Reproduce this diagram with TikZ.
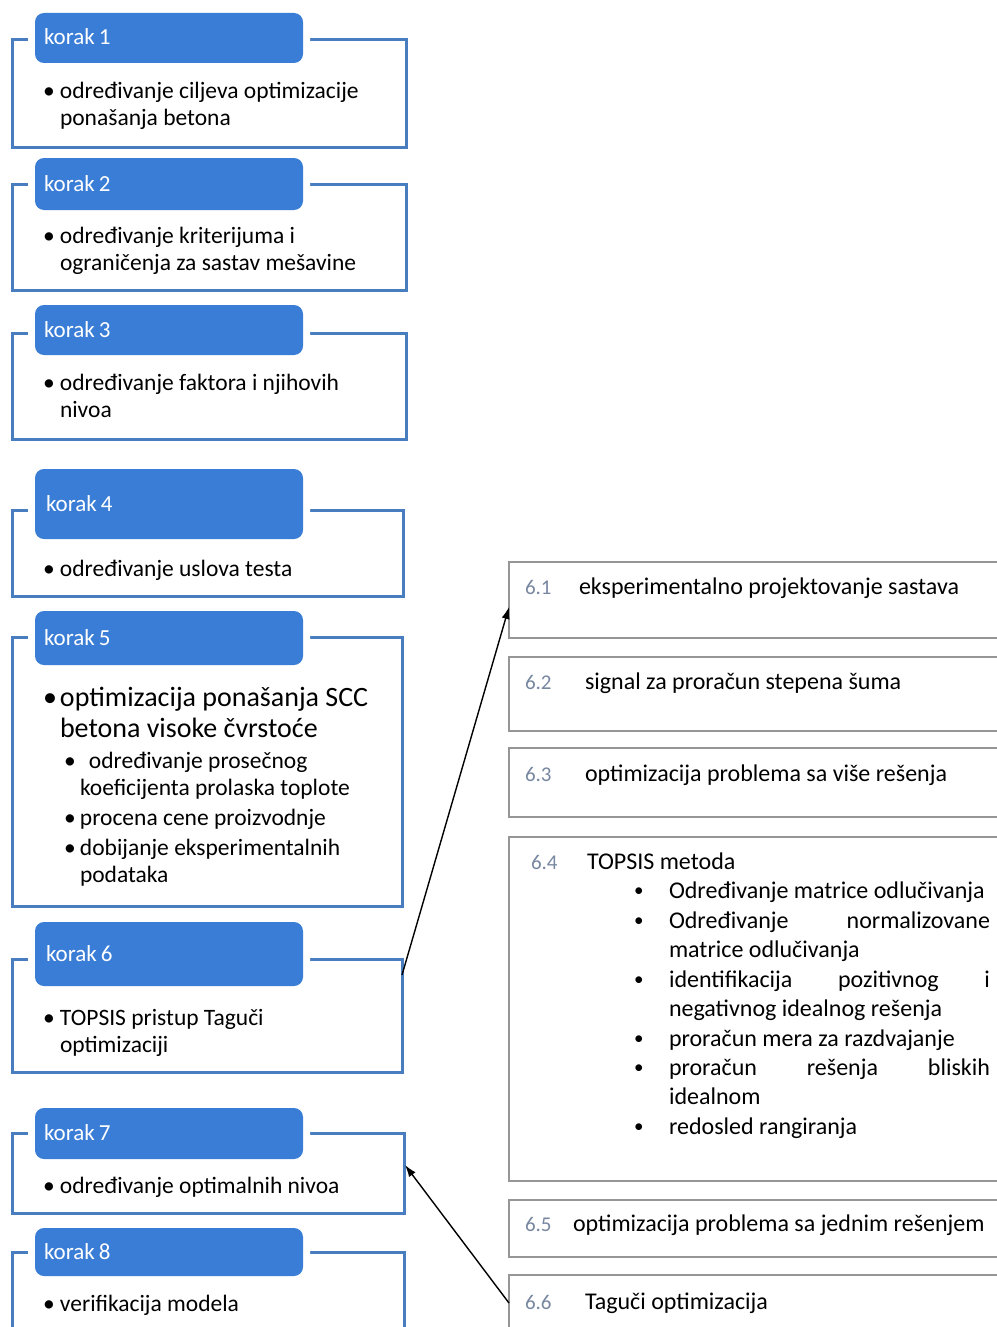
\documentclass[tikz,border=0pt]{standalone}
\usepackage{fontspec}
\setmainfont{Carlito}
\usetikzlibrary{arrows.meta,calc}
\definecolor{hdrblue}{RGB}{58,125,214}
\definecolor{frmblue}{RGB}{72,125,192}
\definecolor{boxgray}{RGB}{150,150,150}
\definecolor{numgray}{RGB}{120,135,160}
\newcommand{\bul}{\makebox[17pt][l]{•}}
\newcommand{\sbul}{\makebox[16pt][l]{•}}
\tikzset{
 frame/.style={draw=frmblue, line width=3pt, fill=white, anchor=north west, outer sep=0pt, inner sep=0pt},
 header/.style={fill=hdrblue, rounded corners=9pt, anchor=north west, outer sep=0pt, inner xsep=9pt, inner ysep=0pt,
   text width=250pt, align=left, text=white, font=\fontsize{23}{26}\selectfont, text height=14pt, text depth=0pt,
   minimum width=268pt, preaction={draw=white, line width=14pt, rounded corners=9pt}},
 body/.style={anchor=base west, inner sep=0pt, outer sep=0pt, font=\fontsize{23.5}{27}\selectfont, text=black},
 rbox/.style={draw=boxgray, line width=1.5pt, fill=white, anchor=north west, outer sep=0pt, inner sep=0pt, minimum width=520pt},
 num/.style={anchor=base west, inner sep=0pt, outer sep=0pt, text=numgray, font=\fontsize{21}{24}\selectfont},
 rtext/.style={anchor=base west, inner sep=0pt, outer sep=0pt, text=black, font=\fontsize{24}{29.5}\selectfont},
 rbul/.style={anchor=base west, inner sep=0pt, outer sep=0pt, text=black, font=\fontsize{19}{24}\selectfont},
 link/.style={draw=black, line width=1.4pt, -{Latex[length=12pt,width=8pt]}}
}
\begin{document}
\begin{tikzpicture}[x=1pt,y=-1pt]
\useasboundingbox (0,0) rectangle (996,1327);
\fill[white] (0,0) rectangle (996,1327);
% step frames
\node[frame, minimum width=394pt, minimum height=107pt] (f1) at (12,40) {};
\node[frame, minimum width=394pt, minimum height=106pt] (f2) at (12,184) {};
\node[frame, minimum width=394pt, minimum height=106pt] (f3) at (12,333) {};
\node[frame, minimum width=391pt, minimum height=86pt] (f4) at (12,510) {};
\node[frame, minimum width=390pt, minimum height=269pt] (f5) at (12,637) {};
\node[frame, minimum width=390pt, minimum height=113pt] (f6) at (12,959) {};
\node[frame, minimum width=392pt, minimum height=80pt] (f7) at (12,1133) {};
\node[frame, minimum width=392pt, minimum height=100pt] (f8) at (12,1252) {};
% headers
\node[header, minimum height=50pt] (h1) at (35,13) {korak\kern4pt 1};
\node[header, minimum height=52pt] (h2) at (35,158) {korak\kern4pt 2};
\node[header, minimum height=50pt] (h3) at (35,305) {korak\kern4pt 3};
\node[header, minimum height=70pt] (h4) at (35,469) {\hspace*{2pt}korak\kern4pt 4};
\node[header, minimum height=54pt] (h5) at (35,611) {korak\kern4pt 5};
\node[header, minimum height=64pt] (h6) at (35,922) {\hspace*{2pt}korak\kern4pt 6};
\node[header, minimum height=51pt] (h7) at (35,1108) {korak\kern4pt 7};
\node[header, minimum height=48pt] (h8) at (35,1228) {korak\kern4pt 8};
% step texts
\node[body] (t1) at (43,99) {\bul\parbox[t]{340pt}{određivanje ciljeva optimizacije\\ponašanja betona}};
\node[body] (t2) at (43,243) {\bul\parbox[t]{340pt}{određivanje kriterijuma i\\ograničenja za sastav mešavine}};
\node[body] (t3) at (43,390) {\bul\parbox[t]{340pt}{određivanje faktora i njihovih\\nivoa}};
\node[body] (t4) at (43,576) {\bul određivanje uslova testa};
\node[body, font=\fontsize{28}{31}\selectfont] (t5) at (43,706) {\bul\parbox[t]{340pt}{optimizacija ponašanja SCC\\betona visoke čvrstoće}};
\node[body] (t5a) at (64,768) {\sbul\parbox[t]{310pt}{\hspace*{9pt}određivanje prosečnog\\koeficijenta prolaska toplote}};
\node[body] (t5b) at (64,825) {\sbul procena cene proizvodnje};
\node[body] (t5c) at (64,855) {\sbul\parbox[t]{310pt}{dobijanje eksperimentalnih\\podataka}};
\node[body] (t6) at (43,1025) {\bul\parbox[t]{340pt}{TOPSIS pristup Taguči\\optimizaciji}};
\node[body] (t7) at (43,1193) {\bul određivanje optimalnih nivoa};
\node[body] (t8) at (43,1311) {\bul verifikacija modela};
% right boxes
\node[rbox, minimum height=76pt] (b61) at (509,562) {};
\node[rbox, minimum height=74pt] (b62) at (509,657) {};
\node[rbox, minimum height=69pt] (b63) at (509,748) {};
\node[rbox, minimum height=344pt] (b64) at (509,837) {};
\node[rbox, minimum height=57pt] (b65) at (509,1200) {};
\node[rbox, minimum height=90pt] (b66) at (509,1275) {};
\node[num] (n61) at (525,594) {6.1};
\node[rtext] (r61) at (579,594) {eksperimentalno projektovanje sastava};
\node[num] (n62) at (525,689) {6.2};
\node[rtext] (r62) at (585,689) {signal za proračun stepena šuma};
\node[num] (n63) at (525,781) {6.3};
\node[rtext] (r63) at (585,781) {optimizacija problema sa više rešenja};
\node[num] (n64) at (531,869) {6.4};
\node[rtext] (r64) at (587,869) {TOPSIS metoda};
\node[rbul] (p1) at (634,896) {•};
\node[rtext] (r64a) at (669,898) {Određivanje matrice odlučivanja};
\node[rbul] (p2) at (634,926) {•};
\node[rtext] (r64b) at (669,928) {\hbox to 321pt{Određivanje\hfill normalizovane}};
\node[rtext] (r64c) at (669,957) {matrice odlučivanja};
\node[rbul] (p3) at (634,985) {•};
\node[rtext] (r64d) at (669,987) {\hbox to 321pt{identifikacija\hfill pozitivnog\hfill i}};
\node[rtext] (r64e) at (669,1016) {negativnog idealnog rešenja};
\node[rbul] (p4) at (634,1044) {•};
\node[rtext] (r64f) at (669,1046) {proračun mera za razdvajanje};
\node[rbul] (p5) at (634,1073) {•};
\node[rtext] (r64g) at (669,1075) {\hbox to 321pt{proračun\hfill rešenja\hfill bliskih}};
\node[rtext] (r64h) at (669,1104) {idealnom};
\node[rbul] (p6) at (634,1132) {•};
\node[rtext] (r64i) at (669,1134) {redosled rangiranja};
\node[num] (n65) at (525,1231) {6.5};
\node[rtext] (r65) at (573,1231) {optimizacija problema sa jednim rešenjem};
\node[num] (n66) at (525,1309) {6.6};
\node[rtext] (r66) at (585,1309) {Taguči optimizacija};
% connectors
\draw[link] ($(f6.north east)+(0,16)$) -- ($(b61.west)+(0,7)$);
\draw[link] ($(b66.north west)+(0,28)$) -- ($(f7.east)+(1,-8)$);
\end{tikzpicture}
\end{document}
